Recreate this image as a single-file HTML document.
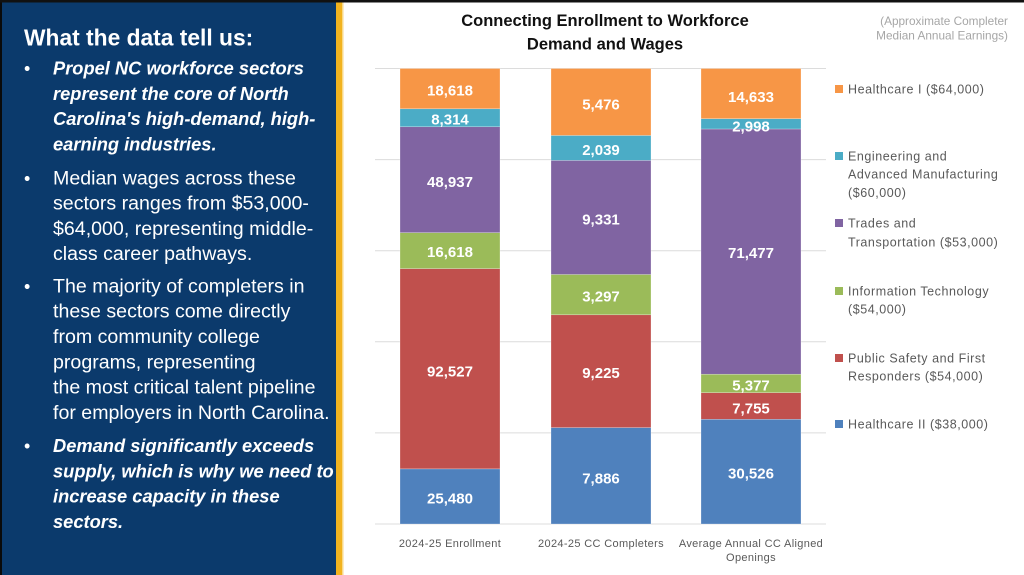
<!DOCTYPE html>
<html><head><meta charset="utf-8"><style>
html,body{margin:0;padding:0;background:#fff;}
body{width:1024px;height:575px;overflow:hidden;position:relative;}
svg{position:absolute;left:0;top:0;}
</style></head><body>
<svg width="1024" height="575" viewBox="0 0 1024 575" xmlns="http://www.w3.org/2000/svg" font-family="'Liberation Sans', Arial, sans-serif">
  <rect x="0" y="0" width="1024" height="575" fill="#ffffff"/>
  <!-- left panel -->
  <rect x="0" y="0" width="336" height="575" fill="#0b3a6c"/>
  <rect x="0" y="0" width="2" height="575" fill="#0a0a0a"/>
  <rect x="336" y="0" width="6" height="575" fill="#f2b31f"/>
  <rect x="342" y="0" width="1.5" height="575" fill="#f8d98a"/>
  <rect x="0" y="0" width="1024" height="2.5" fill="#111"/>

  <!-- left text -->
  <g fill="#ffffff">
    <text x="24" y="45.7" font-size="22.8" font-weight="bold">What the data tell us:</text>
    <g font-size="18">
      <text x="24" y="74.5">•</text>
      <text x="24" y="184.3">•</text>
      <text x="24" y="292.4">•</text>
      <text x="24" y="452">•</text>
    </g>
    <g font-size="18.3" font-weight="bold" font-style="italic">
      <text x="53" y="74.5">Propel NC workforce sectors</text>
      <text x="53" y="99.8">represent the core of North</text>
      <text x="53" y="125">Carolina's high-demand, high-</text>
      <text x="53" y="150.3">earning industries.</text>
    </g>
    <g font-size="19.6">
      <text x="53" y="184.3">Median wages across these</text>
      <text x="53" y="209.6">sectors ranges from $53,000-</text>
      <text x="53" y="234.9">$64,000, representing middle-</text>
      <text x="53" y="260.2">class career pathways.</text>
      <text x="53" y="292.4">The majority of completers in</text>
      <text x="53" y="317.7">these sectors come directly</text>
      <text x="53" y="343">from community college</text>
      <text x="53" y="368.3">programs, representing</text>
      <text x="53" y="393.6">the most critical talent pipeline</text>
      <text x="53" y="418.9">for employers in North Carolina.</text>
    </g>
    <g font-size="18.3" font-weight="bold" font-style="italic">
      <text x="53" y="452">Demand significantly exceeds</text>
      <text x="53" y="477.3">supply, which is why we need to</text>
      <text x="53" y="502.6">increase capacity in these</text>
      <text x="53" y="528">sectors.</text>
    </g>
  </g>

  <!-- title -->
  <g font-size="16.5" font-weight="bold" fill="#111" text-anchor="middle">
    <text x="605" y="26">Connecting Enrollment to Workforce</text>
    <text x="605" y="49.3">Demand and Wages</text>
  </g>
  <g font-size="11.8" fill="#a6a6a6" text-anchor="end">
    <text x="1008" y="25">(Approximate Completer</text>
    <text x="1008" y="39.5">Median Annual Earnings)</text>
  </g>

  <!-- gridlines -->
  <g stroke="#dcdcdc" stroke-width="1">
    <line x1="375" x2="826" y1="68.5" y2="68.5"/>
    <line x1="375" x2="826" y1="159.6" y2="159.6"/>
    <line x1="375" x2="826" y1="250.7" y2="250.7"/>
    <line x1="375" x2="826" y1="341.8" y2="341.8"/>
    <line x1="375" x2="826" y1="432.9" y2="432.9"/>
    <line x1="375" x2="826" y1="524" y2="524"/>
  </g>

  <!-- bars -->
  <g stroke="#ffffff" stroke-width="0.5" stroke-opacity="0.5">
    <!-- bar 1 -->
    <rect x="400" y="468.86" width="100" height="55.14" fill="#4f81bd"/>
    <rect x="400" y="268.63" width="100" height="200.23" fill="#c0504d"/>
    <rect x="400" y="232.67" width="100" height="35.96" fill="#9bbb59"/>
    <rect x="400" y="126.77" width="100" height="105.9" fill="#8064a2"/>
    <rect x="400" y="108.78" width="100" height="17.99" fill="#4bacc6"/>
    <rect x="400" y="68.5" width="100" height="40.28" fill="#f79646"/>
    <!-- bar 2 -->
    <rect x="551" y="427.58" width="100" height="96.42" fill="#4f81bd"/>
    <rect x="551" y="314.79" width="100" height="112.79" fill="#c0504d"/>
    <rect x="551" y="274.48" width="100" height="40.31" fill="#9bbb59"/>
    <rect x="551" y="160.39" width="100" height="114.09" fill="#8064a2"/>
    <rect x="551" y="135.46" width="100" height="24.93" fill="#4bacc6"/>
    <rect x="551" y="68.5" width="100" height="66.96" fill="#f79646"/>
    <!-- bar 3 -->
    <rect x="701" y="419.27" width="100" height="104.73" fill="#4f81bd"/>
    <rect x="701" y="392.66" width="100" height="26.61" fill="#c0504d"/>
    <rect x="701" y="374.21" width="100" height="18.45" fill="#9bbb59"/>
    <rect x="701" y="128.98" width="100" height="245.23" fill="#8064a2"/>
    <rect x="701" y="118.69" width="100" height="10.29" fill="#4bacc6"/>
    <rect x="701" y="68.5" width="100" height="50.19" fill="#f79646"/>
  </g>

  <!-- data labels -->
  <g font-size="15" font-weight="bold" fill="#ffffff" text-anchor="middle">
    <text x="450" y="95.3">18,618</text>
    <text x="450" y="124.3">8,314</text>
    <text x="450" y="187">48,937</text>
    <text x="450" y="257">16,618</text>
    <text x="450" y="376.3">92,527</text>
    <text x="450" y="503.3">25,480</text>

    <text x="601" y="109.3">5,476</text>
    <text x="601" y="155">2,039</text>
    <text x="601" y="224.3">9,331</text>
    <text x="601" y="301.3">3,297</text>
    <text x="601" y="378">9,225</text>
    <text x="601" y="483.3">7,886</text>

    <text x="751" y="102">14,633</text>
    <text x="751" y="131.3">2,998</text>
    <text x="751" y="258">71,477</text>
    <text x="751" y="390.3">5,377</text>
    <text x="751" y="413.3">7,755</text>
    <text x="751" y="478.3">30,526</text>
  </g>

  <!-- x labels -->
  <g font-size="11" fill="#595959" text-anchor="middle" letter-spacing="0.35">
    <text x="450" y="547">2024-25 Enrollment</text>
    <text x="601" y="547">2024-25 CC Completers</text>
    <text x="751" y="547">Average Annual CC Aligned</text>
    <text x="751" y="561">Openings</text>
  </g>

  <!-- legend -->
  <rect x="835" y="85" width="8" height="8" fill="#f79646"/>
  <rect x="835" y="152" width="8" height="8" fill="#4bacc6"/>
  <rect x="835" y="219" width="8" height="8" fill="#8064a2"/>
  <rect x="835" y="287" width="8" height="8" fill="#9bbb59"/>
  <rect x="835" y="354" width="8" height="8" fill="#c0504d"/>
  <rect x="835" y="420" width="8" height="8" fill="#4f81bd"/>
  <g font-size="12.5" fill="#595959" letter-spacing="0.55">
    <text x="848" y="93.5">Healthcare I ($64,000)</text>
    <text x="848" y="160.5">Engineering and</text>
    <text x="848" y="178.5">Advanced Manufacturing</text>
    <text x="848" y="197">($60,000)</text>
    <text x="848" y="227.5">Trades and</text>
    <text x="848" y="246.5">Transportation ($53,000)</text>
    <text x="848" y="295.5">Information Technology</text>
    <text x="848" y="313.5">($54,000)</text>
    <text x="848" y="362.5">Public Safety and First</text>
    <text x="848" y="380.5">Responders ($54,000)</text>
    <text x="848" y="428.5">Healthcare II ($38,000)</text>
  </g>
</svg>
</body></html>
